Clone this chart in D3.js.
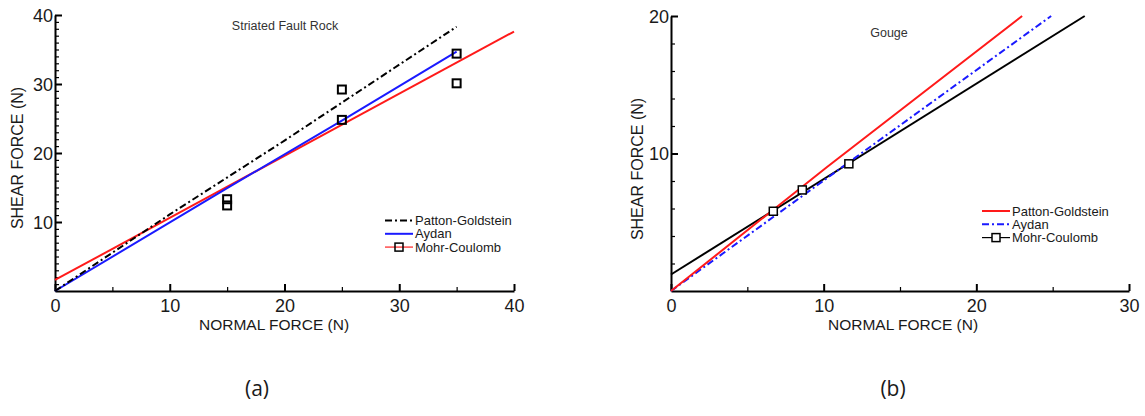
<!DOCTYPE html>
<html lang="en">
<head>
    <meta charset="UTF-8">
    <title>Shear vs Normal Force</title>
    <script src="https://d3js.org/d3.v7.min.js"></script>
    <style>
        body { margin: 0; background: #fff; }
        svg text { font-family: "Liberation Sans", Arial, sans-serif; fill: #1a1a1a; }
        .axis path, .axis line { stroke: #000; stroke-width: 2px; }
        .axis text { font-size: 18px; }
        .minor line { stroke: #000; stroke-width: 1.2px; }
        .minor path { display: none; }
    </style>
</head>
<body>
<svg id="chart" width="1145" height="416"></svg>
<script>
    // (a) Striated Fault Rock
    const aPatton = [[0, 0], [10, 11.1], [20, 21.8], [30, 32.8], [35, 38.3]];
    const aAydan = [[0, 0], [15, 14.9], [25, 24.7], [35, 34.7]];
    const aMohr = [[0, 1.6], [40, 37.6]];
    const aTests = [[15, 13.3], [15, 12.4], [25, 29.2], [25, 24.8], [35, 34.4], [35, 30.1]];
    const aXTicks = [0, 10, 20, 30, 40];
    const aYTicks = [10, 20, 30, 40];

    // (b) Gouge
    const bPatton = [[0, 0], [10.2, 9.0], [23, 20]];
    const bAydan = [[0, 0], [11.7, 9.4], [24.9, 20]];
    const bMohr = [[0, 1.2], [27.1, 20]];
    const bMohrMarks = [[6.7, 5.8], [8.6, 7.35], [11.65, 9.25]];
    const bXTicks = [0, 10, 20, 30];
    const bYTicks = [10, 20];

    const legendNames = ["Patton-Goldstein", "Aydan", "Mohr-Coulomb"];

    const svg = d3.select("#chart");

    function panel(opt) {
        const x = d3.scaleLinear().domain(opt.xDomain).range([opt.left, opt.right]);
        const y = d3.scaleLinear().domain(opt.yDomain).range([opt.bottom, opt.top]);
        const g = svg.append("g");

        // minor ticks
        g.append("g").attr("class", "minor")
            .attr("transform", `translate(0,${opt.bottom})`)
            .call(d3.axisBottom(x).tickValues(opt.xMinor).tickSize(-4).tickFormat(""));
        g.append("g").attr("class", "minor")
            .attr("transform", `translate(${opt.left},0)`)
            .call(d3.axisLeft(y).tickValues(opt.yMinor).tickSize(-4).tickFormat(""));

        // major axes
        const xa = g.append("g").attr("class", "axis")
            .attr("transform", `translate(0,${opt.bottom})`)
            .call(d3.axisBottom(x).tickValues(opt.xTicks).tickSizeInner(-7).tickSizeOuter(0).tickPadding(5));
        xa.selectAll("text").attr("dy", "0.88em");
        const ya = g.append("g").attr("class", "axis")
            .attr("transform", `translate(${opt.left},0)`)
            .call(d3.axisLeft(y).tickValues(opt.yTicks).tickSizeInner(-7).tickSizeOuter(0).tickPadding(2));
        ya.selectAll("text").attr("dy", "0.36em");

        const line = d3.line().x(d => x(d[0])).y(d => y(d[1]));

        opt.series.forEach(s => {
            g.append("path").datum(s.data)
                .attr("d", line)
                .attr("fill", "none")
                .attr("stroke", s.color)
                .attr("stroke-width", 2)
                .attr("stroke-dasharray", s.dash || null);
        });

        g.selectAll("rect.pt").data(opt.marks).join("rect")
            .attr("class", "pt")
            .attr("x", d => x(d[0]) - opt.markSize / 2)
            .attr("y", d => y(d[1]) - opt.markSize / 2)
            .attr("width", opt.markSize)
            .attr("height", opt.markSize)
            .attr("fill", opt.markFill)
            .attr("stroke", "#000")
            .attr("stroke-width", opt.markStroke);

        // title
        g.append("text").attr("x", opt.titleX).attr("y", opt.titleY)
            .attr("text-anchor", "middle").style("font-size", "12.5px").style("fill", "#333")
            .text(opt.title);

        // axis labels
        g.append("text").attr("x", opt.xLabelX).attr("y", 330)
            .attr("text-anchor", "middle").style("font-size", "15.5px")
            .text("NORMAL FORCE (N)");
        g.append("text")
            .attr("transform", `translate(${opt.yLabelX},${opt.yLabelY}) rotate(-90)`)
            .attr("text-anchor", "middle").style("font-size", "16px")
            .text("SHEAR FORCE (N)");

        // legend
        const lg = g.append("g").attr("transform", `translate(${opt.legendX},${opt.legendY})`);
        opt.legend.forEach((s, i) => {
            const row = lg.append("g").attr("transform", `translate(0,${i * 13.3})`);
            row.append("line").attr("x1", 0).attr("x2", 28).attr("y1", 0).attr("y2", 0)
                .attr("stroke", s.color).attr("stroke-width", s.width || 2)
                .attr("stroke-dasharray", s.dash || null);
            if (s.mark) {
                row.append("rect").attr("x", 14 - 4).attr("y", -4).attr("width", 8).attr("height", 8)
                    .attr("fill", opt.markFill).attr("stroke", "#000").attr("stroke-width", 1.5);
            }
            row.append("text").attr("x", 30).attr("y", 0).attr("dy", "0.36em")
                .style("font-size", "13px").text(legendNames[i]);
        });

        // sub-caption
        g.append("text").attr("x", opt.capX).attr("y", 396)
            .attr("text-anchor", "middle").style("font-size", "21px")
            .style("font-family", "'Open Sans', sans-serif")
            .text(opt.caption);
    }

    panel({
        xDomain: [0, 40], yDomain: [0, 40],
        left: 55, right: 514, top: 15, bottom: 291,
        xTicks: aXTicks, yTicks: aYTicks,
        xMinor: [5, 15, 25, 35], yMinor: d3.range(1, 40).filter(v => v % 10 !== 0),
        series: [
            { data: aMohr, color: "#ff1a1a" },
            { data: aAydan, color: "#1a1aff" },
            { data: aPatton, color: "#000", dash: "7,3,2,3" }
        ],
        marks: aTests, markSize: 8, markFill: "none", markStroke: 2,
        title: "Striated Fault Rock", titleX: 285, titleY: 30,
        xLabelX: 274, yLabelX: 23, yLabelY: 158,
        legendX: 385, legendY: 220.5,
        legend: [
            { color: "#000", dash: "7,3,2,3" },
            { color: "#1a1aff" },
            { color: "#ff4d4d", width: 1.5, mark: true }
        ],
        caption: "(a)", capX: 257
    });

    panel({
        xDomain: [0, 30], yDomain: [0, 20],
        left: 671, right: 1129, top: 16, bottom: 291,
        xTicks: bXTicks, yTicks: bYTicks,
        xMinor: [5, 15, 25], yMinor: [2, 4, 6, 8, 12, 14, 16, 18],
        series: [
            { data: bMohr, color: "#000" },
            { data: bAydan, color: "#1a1aff", dash: "7,3,2,3" },
            { data: bPatton, color: "#ff1a1a" }
        ],
        marks: bMohrMarks, markSize: 8, markFill: "#fff", markStroke: 1.5,
        title: "Gouge", titleX: 889, titleY: 37,
        xLabelX: 903, yLabelX: 643, yLabelY: 169,
        legendX: 982, legendY: 211,
        legend: [
            { color: "#ff1a1a" },
            { color: "#1a1aff", dash: "7,3,2,3" },
            { color: "#000", width: 1.2, mark: true }
        ],
        caption: "(b)", capX: 893
    });
</script>
</body>
</html>
